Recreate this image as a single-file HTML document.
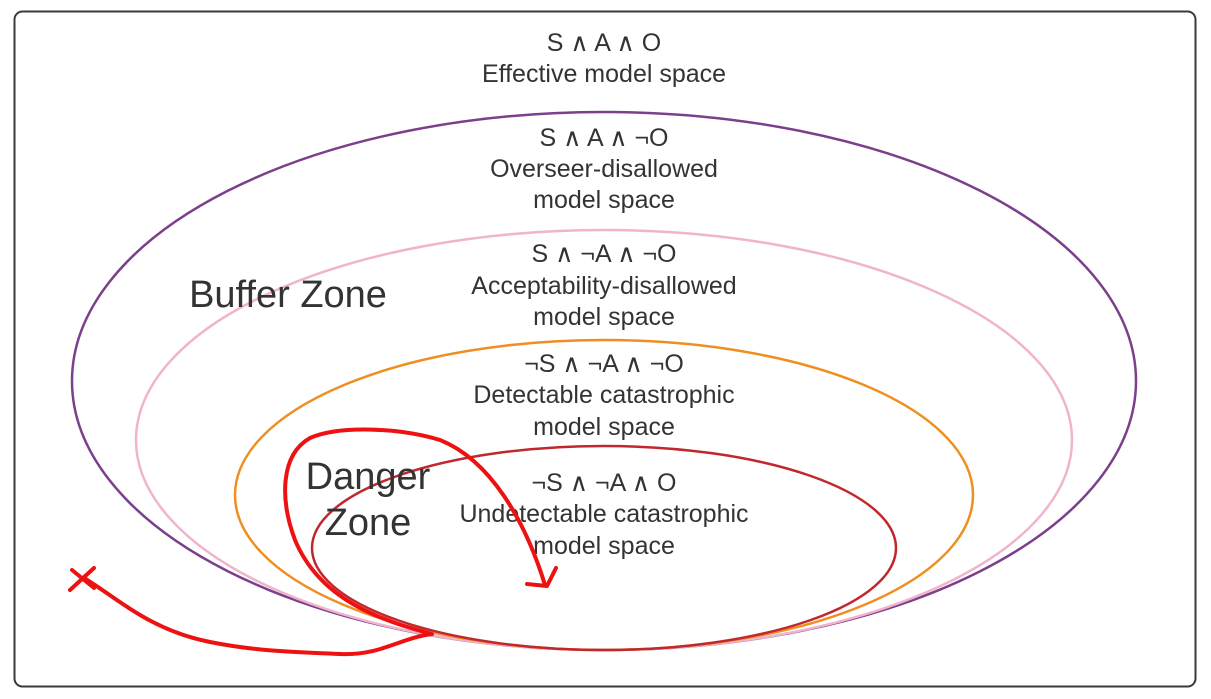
<!DOCTYPE html>
<html><head><meta charset="utf-8"><style>
html,body{margin:0;padding:0;background:#fff;width:1211px;height:699px;overflow:hidden}
svg{display:block}
text{font-family:"Liberation Sans",sans-serif;fill:#333;text-anchor:middle}
</style></head><body>
<svg width="1211" height="699" viewBox="0 0 1211 699">
<rect x="14.5" y="11.5" width="1181" height="675" rx="8" fill="#fff" stroke="#3a3a3a" stroke-width="2"/>
<ellipse cx="604" cy="381" rx="532" ry="269" fill="none" stroke="#7b3f8c" stroke-width="2.5"/>
<ellipse cx="604" cy="440" rx="468" ry="210" fill="none" stroke="#f0b4cc" stroke-width="2.5"/>
<ellipse cx="604" cy="495" rx="369" ry="155" fill="none" stroke="#ef8f22" stroke-width="2.5"/>
<ellipse cx="604" cy="548" rx="292" ry="102" fill="none" stroke="#c0282e" stroke-width="2.5"/>
<g font-size="25">
<text x="604" y="51">S ∧ A ∧ O</text>
<text x="604" y="82">Effective model space</text>
<text x="604" y="146">S ∧ A ∧ ¬O</text>
<text x="604" y="177">Overseer-disallowed</text>
<text x="604" y="208">model space</text>
<text x="604" y="262">S ∧ ¬A ∧ ¬O</text>
<text x="604" y="294">Acceptability-disallowed</text>
<text x="604" y="325">model space</text>
<text x="604" y="372">¬S ∧ ¬A ∧ ¬O</text>
<text x="604" y="403">Detectable catastrophic</text>
<text x="604" y="435">model space</text>
<text x="604" y="491">¬S ∧ ¬A ∧ O</text>
<text x="604" y="522">Undetectable catastrophic</text>
<text x="604" y="554">model space</text>
</g>
<text x="288" y="307" font-size="38">Buffer Zone</text>
<text x="368" y="489" font-size="38">Danger</text>
<text x="368" y="535" font-size="38">Zone</text>
<g fill="none" stroke="#ee1111" stroke-width="4" stroke-linecap="round" stroke-linejoin="round">
<path d="M72 570 L94 588 M94 568 L70 590"/>
<path d="M84 578 C120 600,150 630,210 642 C260 652,300 652,340 654 C380 656,400 638,432 634 C380 620,320 600,295 540 C280 500,280 455,310 438 C340 425,400 428,440 440 C490 460,525 520,545 585"/>
<path d="M527 584 L547 586 L556 568"/>
</g>
</svg>
</body></html>
